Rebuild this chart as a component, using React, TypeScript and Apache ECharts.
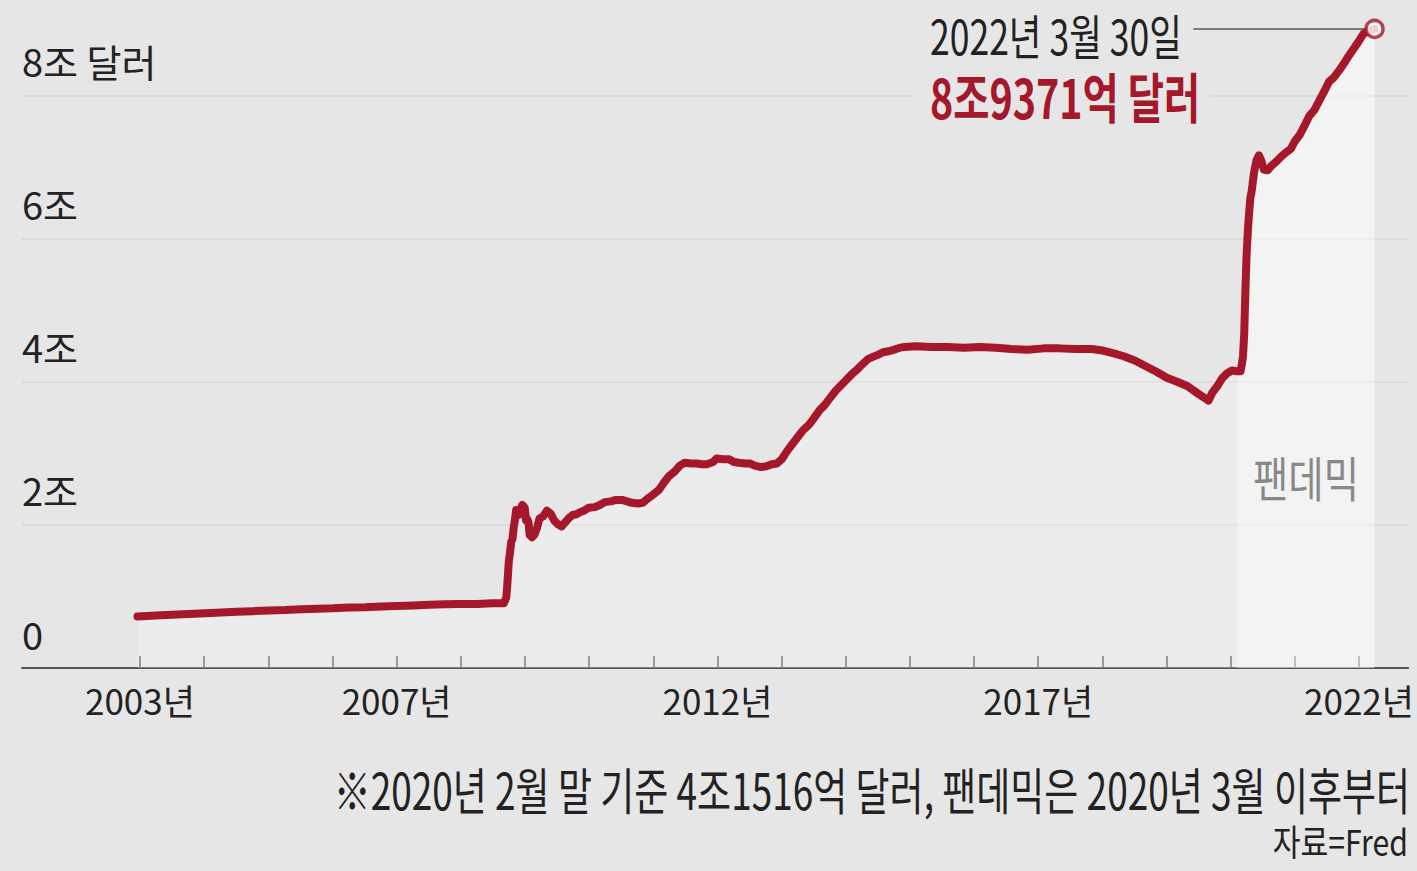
import React, { useEffect, useRef } from "react";
import * as echarts from "echarts";

// Fed total assets (조 달러 = trillion USD)
const dates: string[] = [
  "2002-12-18", "2003-04-02", "2003-07-02", "2003-10-01", "2004-01-07", "2004-04-07", "2004-07-07", "2004-10-06",
  "2005-01-05", "2005-04-06", "2005-07-06", "2005-10-05", "2006-01-04", "2006-04-05", "2006-07-05", "2006-10-04",
  "2007-01-03", "2007-04-04", "2007-07-04", "2007-10-03", "2008-01-02", "2008-04-02", "2008-07-02", "2008-09-03",
  "2008-09-17", "2008-09-24", "2008-10-01", "2008-10-08", "2008-10-15", "2008-10-22", "2008-10-29", "2008-11-05",
  "2008-11-12", "2008-11-19", "2008-11-26", "2008-12-03", "2008-12-10", "2008-12-17", "2008-12-24", "2008-12-31",
  "2009-01-07", "2009-01-14", "2009-01-21", "2009-01-28", "2009-02-11", "2009-02-25", "2009-03-11", "2009-03-25",
  "2009-04-15", "2009-05-06", "2009-05-27", "2009-06-17", "2009-07-08", "2009-07-29", "2009-08-19", "2009-09-09",
  "2009-09-30", "2009-10-21", "2009-11-11", "2009-12-02", "2009-12-30", "2010-02-03", "2010-03-03", "2010-03-31",
  "2010-05-05", "2010-06-02", "2010-07-07", "2010-08-04", "2010-09-01", "2010-10-06", "2010-11-03", "2010-12-01",
  "2010-12-29", "2011-02-02", "2011-03-02", "2011-03-30", "2011-05-04", "2011-06-01", "2011-06-29", "2011-08-03",
  "2011-09-07", "2011-10-05", "2011-11-02", "2011-12-07", "2011-12-28", "2012-02-01", "2012-03-07", "2012-04-04",
  "2012-05-02", "2012-06-06", "2012-07-04", "2012-08-01", "2012-09-05", "2012-10-03", "2012-11-07", "2012-12-05",
  "2013-01-02", "2013-02-06", "2013-03-06", "2013-04-03", "2013-05-01", "2013-06-05", "2013-07-03", "2013-08-07",
  "2013-09-04", "2013-10-02", "2013-11-06", "2013-12-04", "2014-01-01", "2014-02-05", "2014-03-05", "2014-04-02",
  "2014-05-07", "2014-06-04", "2014-07-02", "2014-08-06", "2014-09-03", "2014-10-01", "2014-11-05", "2014-12-03",
  "2015-02-04", "2015-05-06", "2015-08-05", "2015-11-04", "2016-02-03", "2016-05-04", "2016-08-03", "2016-11-02",
  "2017-02-01", "2017-05-03", "2017-08-02", "2017-11-01", "2018-01-03", "2018-03-07", "2018-05-02", "2018-07-04",
  "2018-09-05", "2018-11-07", "2019-01-02", "2019-03-06", "2019-05-01", "2019-07-03", "2019-08-28", "2019-09-18",
  "2019-10-16", "2019-11-13", "2019-12-11", "2020-01-08", "2020-02-05", "2020-02-26", "2020-03-04", "2020-03-11",
  "2020-03-18", "2020-03-25", "2020-04-01", "2020-04-08", "2020-04-15", "2020-04-22", "2020-04-29", "2020-05-13",
  "2020-05-27", "2020-06-10", "2020-06-24", "2020-07-08", "2020-07-29", "2020-08-19", "2020-09-16", "2020-10-14",
  "2020-11-11", "2020-12-09", "2020-12-30", "2021-01-27", "2021-02-24", "2021-03-24", "2021-04-21", "2021-05-19",
  "2021-06-16", "2021-07-14", "2021-08-11", "2021-09-08", "2021-10-06", "2021-11-03", "2021-12-01", "2021-12-29",
  "2022-01-26", "2022-02-23", "2022-03-30",
];

const values: number[] = [
  0.72, 0.735, 0.745, 0.755, 0.765, 0.775, 0.785, 0.795,
  0.805, 0.81, 0.82, 0.83, 0.835, 0.845, 0.85, 0.86,
  0.868, 0.875, 0.885, 0.89, 0.895, 0.895, 0.905, 0.905,
  0.99, 1.22, 1.49, 1.62, 1.77, 1.8, 1.97, 2.07,
  2.21, 2.19, 2.14, 2.21, 2.24, 2.28, 2.26, 2.24,
  2.07, 2.08, 2.04, 1.86, 1.83, 1.87, 1.96, 2.09,
  2.12, 2.2, 2.16, 2.06, 2.01, 1.98, 2.04, 2.1,
  2.14, 2.15, 2.18, 2.2, 2.24, 2.25, 2.28, 2.32,
  2.33, 2.35, 2.35, 2.33, 2.31, 2.3, 2.31, 2.37,
  2.42, 2.49, 2.59, 2.68, 2.75, 2.83, 2.87, 2.86,
  2.86, 2.85, 2.85, 2.88, 2.93, 2.92, 2.92, 2.88,
  2.87, 2.86, 2.86, 2.83, 2.81, 2.82, 2.85, 2.86,
  2.92, 3.05, 3.14, 3.23, 3.32, 3.4, 3.49, 3.61,
  3.68, 3.77, 3.88, 3.95, 4.02, 4.11, 4.17, 4.24,
  4.32, 4.35, 4.38, 4.42, 4.43, 4.45, 4.48, 4.49,
  4.5, 4.49, 4.49, 4.48, 4.49, 4.48, 4.46, 4.45,
  4.47, 4.47, 4.46, 4.46, 4.44, 4.4, 4.36, 4.3,
  4.22, 4.14, 4.06, 4.0, 3.94, 3.83, 3.74, 3.85,
  3.94, 4.05, 4.12, 4.16, 4.15, 4.15, 4.24, 4.36,
  4.67, 5.3, 5.81, 6.12, 6.37, 6.57, 6.66, 6.93,
  7.1, 7.17, 7.09, 6.97, 6.96, 7.02, 7.08, 7.15,
  7.21, 7.26, 7.36, 7.45, 7.58, 7.72, 7.8, 7.93,
  8.06, 8.2, 8.26, 8.35, 8.45, 8.56, 8.66, 8.76,
  8.87, 8.91, 8.937,
];

const pandemicStart = "2020-02-05";
const leaderStart = "2019-06-03";
const xAxisStart = "2001-03-01";
const xAxisEnd = "2022-10-07";
const tickYears: number[] = [
  2003, 2004, 2005, 2006, 2007, 2008, 2009, 2010, 2011, 2012,
  2013, 2014, 2015, 2016, 2017, 2018, 2019, 2020, 2021, 2022,
];
const labelYears: number[] = [2003, 2007, 2012, 2017, 2022];
const yTicks: number[] = [0, 2, 4, 6, 8];
const yTickLabels: string[] = ["0", "2조", "4조", "6조", "8조 달러"];
const annotationDate = "2022년 3월 30일";
const annotationValue = "8조9371억 달러";
const pandemicLabel = "팬데믹";
const footnote = "※2020년 2월 말 기준 4조1516억 달러, 팬데믹은 2020년 3월 이후부터";
const sourceText = "자료=Fred";

const RED = "#a5172a";
const BG = "#e6e6e6";
const FONT = "'Noto Sans CJK KR', 'Noto Sans', sans-serif";

// date string -> fractional year, so the value axis can place it
const toYear = (d: string) => {
  const [y, m, day] = d.split("-").map(Number);
  const start = Date.UTC(y, 0, 1);
  const end = Date.UTC(y + 1, 0, 1);
  return y + (Date.UTC(y, m - 1, day) - start) / (end - start);
};

export default function App() {
  const ref = useRef<HTMLDivElement>(null);

  useEffect(() => {
    if (!ref.current) return;
    const chart = echarts.init(ref.current, null, { renderer: "svg" });

    const pairs = dates.map((d, i) => [toYear(d), values[i]]);
    const pStart = toYear(pandemicStart);
    const pandemicPairs = pairs.filter((p) => p[0] >= pStart);
    const last = pairs[pairs.length - 1];

    chart.setOption({
      animation: false,
      backgroundColor: BG,
      grid: { left: 22, right: 7, top: 3, bottom: 203, containLabel: false },
      xAxis: {
        type: "value",
        min: toYear(xAxisStart),
        max: toYear(xAxisEnd),
        axisLine: { lineStyle: { color: "#555", width: 2 } },
        axisTick: {
          show: true,
          inside: true,
          length: 12,
          customValues: tickYears,
          lineStyle: { color: "#555", width: 1.5 },
        },
        axisLabel: {
          customValues: labelYears,
          formatter: (v: number) => Math.round(v) + "년",
          fontFamily: FONT,
          fontSize: 35,
          color: "#222",
          margin: 14,
          hideOverlap: false,
        },
        splitLine: { show: false },
      },
      yAxis: {
        type: "value",
        min: 0,
        max: 9.3,
        axisLine: { show: false },
        axisTick: { show: false, customValues: yTicks },
        axisLabel: {
          customValues: yTicks,
          inside: true,
          margin: 0,
          verticalAlign: "bottom",
          padding: [0, 0, 16, 0],
          fontFamily: FONT,
          fontSize: 38,
          color: "#222",
          formatter: (v: number) => {
            const i = yTicks.indexOf(v);
            return i >= 0 ? yTickLabels[i] : "";
          },
        },
        splitLine: { show: true, lineStyle: { color: "#d6d6d6", width: 1.5 } },
      },
      series: [
        {
          type: "line",
          data: pairs,
          showSymbol: false,
          silent: true,
          lineStyle: { width: 0, opacity: 0 },
          areaStyle: { color: "rgba(255,255,255,0.36)" },
          z: 1,
        },
        {
          type: "line",
          data: pandemicPairs,
          showSymbol: false,
          silent: true,
          lineStyle: { width: 0, opacity: 0 },
          areaStyle: { color: "rgba(255,255,255,0.55)" },
          z: 2,
        },
        {
          type: "line",
          data: pairs,
          showSymbol: false,
          silent: true,
          lineStyle: { color: RED, width: 8, cap: "round", join: "round" },
          z: 3,
        },
        {
          type: "scatter",
          data: [last],
          symbol: "circle",
          symbolSize: 17,
          silent: true,
          itemStyle: { color: "#fff", borderColor: RED, borderWidth: 3.5 },
          z: 6,
          markLine: {
            silent: true,
            symbol: ["none", "none"],
            label: { show: false },
            lineStyle: { color: "#555", width: 1.5, type: "solid" },
            data: [[{ coord: [toYear(leaderStart), last[1]] }, { coord: [last[0], last[1]] }]],
            z: 4,
          },
        },
      ],
      graphic: [
        {
          type: "text",
          x: 930,
          y: 34,
          scaleX: 0.74,
          style: {
            text: annotationDate,
            fontFamily: FONT,
            fontSize: 48,
            lineHeight: 42,
            fill: "#222",
            align: "left",
            verticalAlign: "middle",
          },
          z: 10,
        },
        {
          type: "text",
          x: 914,
          y: 96,
          scaleX: 0.73,
          style: {
            text: annotationValue,
            fontFamily: FONT,
            fontSize: 54,
            lineHeight: 52,
            fontWeight: "bold",
            fill: RED,
            align: "left",
            verticalAlign: "middle",
            backgroundColor: BG,
            padding: [0, 14, 0, 22],
          },
          z: 10,
        },
        {
          type: "text",
          x: 1306,
          y: 477,
          scaleX: 0.8,
          style: {
            text: pandemicLabel,
            fontFamily: FONT,
            fontSize: 48,
            fill: "#888",
            align: "center",
            verticalAlign: "middle",
          },
          z: 10,
        },
        {
          type: "text",
          x: 1410,
          y: 788,
          scaleX: 0.74,
          style: {
            text: footnote,
            fontFamily: FONT,
            fontSize: 50,
            lineHeight: 48,
            fill: "#222",
            align: "right",
            verticalAlign: "middle",
          },
          z: 10,
        },
        {
          type: "text",
          x: 1408,
          y: 840,
          scaleX: 0.84,
          style: {
            text: sourceText,
            fontFamily: FONT,
            fontSize: 36,
            lineHeight: 30,
            fill: "#222",
            align: "right",
            verticalAlign: "middle",
          },
          z: 10,
        },
      ],
    });

    return () => chart.dispose();
  }, []);

  return (
    <div
      ref={ref}
      style={{ position: "absolute", left: 0, top: 0, width: 1417, height: 871 }}
    />
  );
}
